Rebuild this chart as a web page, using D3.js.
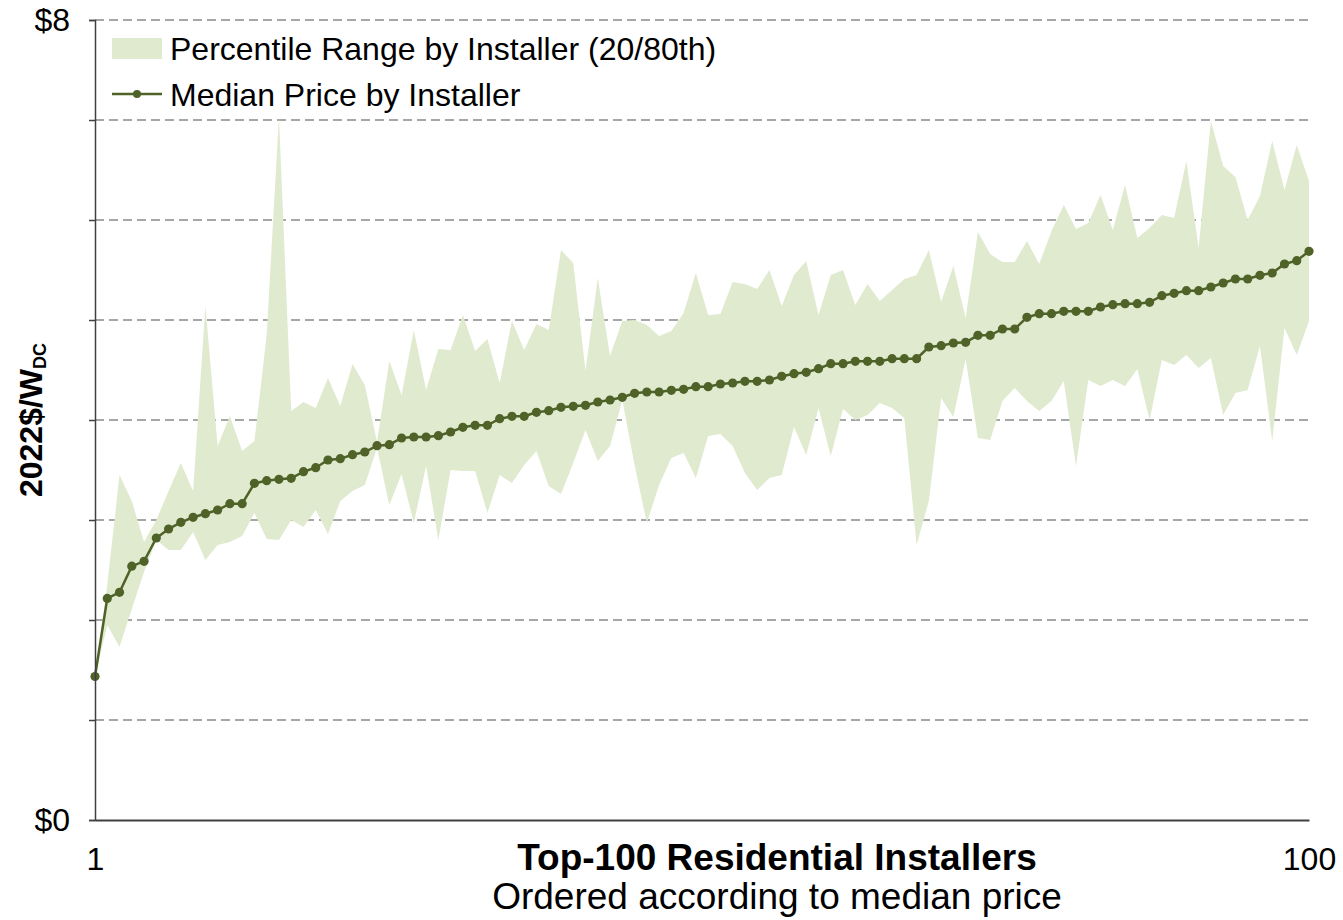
<!DOCTYPE html>
<html>
<head>
<meta charset="utf-8">
<script src="https://cdn.jsdelivr.net/npm/d3@7"></script>
<style>
  html, body { margin: 0; padding: 0; background: #ffffff; }
  svg { display: block; font-family: "Liberation Sans", Arial, sans-serif; }
</style>
</head>
<body>
<svg id="chart" width="1343" height="920"></svg>
<script>
// Installer rank (1 = lowest median price)
const installers = d3.range(1, 101);

// Median installed price by installer, 2022$/W_DC
const medianPrice = [
  1.435, 2.216, 2.277, 2.538, 2.587, 2.82, 2.91, 2.977, 3.027, 3.063,
  3.10, 3.163, 3.163, 3.367, 3.393, 3.407, 3.417, 3.483, 3.523, 3.60,
  3.613, 3.653, 3.68, 3.743, 3.753, 3.82, 3.83, 3.83, 3.843, 3.88,
  3.927, 3.947, 3.947, 4.013, 4.037, 4.037, 4.077, 4.093, 4.127, 4.137,
  4.147, 4.18, 4.20, 4.227, 4.267, 4.28, 4.28, 4.297, 4.307, 4.333,
  4.333, 4.36, 4.37, 4.387, 4.387, 4.40, 4.437, 4.463, 4.477, 4.513,
  4.563, 4.563, 4.587, 4.587, 4.587, 4.613, 4.613, 4.613, 4.73, 4.743,
  4.77, 4.777, 4.847, 4.847, 4.91, 4.91, 5.027, 5.063, 5.063, 5.087,
  5.087, 5.087, 5.13, 5.153, 5.163, 5.163, 5.177, 5.243, 5.267, 5.293,
  5.293, 5.33, 5.37, 5.41, 5.41, 5.447, 5.47, 5.56, 5.593, 5.687
];

// 80th percentile price by installer
const upperPrice = [
  1.44, 2.35, 3.45, 3.19, 2.78, 3.00, 3.29, 3.57, 3.29, 5.14,
  3.74, 4.04, 3.69, 3.79, 4.85, 7.03, 4.09, 4.18, 4.12, 4.42,
  4.14, 4.56, 4.35, 3.78, 4.59, 4.25, 4.90, 4.30, 4.71, 4.70,
  5.05, 4.69, 4.81, 4.37, 4.99, 4.70, 4.96, 4.90, 5.70, 5.57,
  4.49, 5.42, 4.64, 4.99, 5.00, 4.95, 4.84, 4.89, 5.07, 5.47,
  5.05, 5.06, 5.38, 5.36, 5.31, 5.50, 5.14, 5.45, 5.59, 5.05,
  5.45, 5.50, 5.15, 5.36, 5.19, 5.30, 5.41, 5.45, 5.70, 5.18,
  5.54, 5.02, 5.88, 5.66, 5.58, 5.58, 5.79, 5.56, 5.89, 6.15,
  5.91, 5.97, 6.25, 5.90, 6.35, 5.82, 5.92, 6.05, 6.02, 6.59,
  5.72, 6.99, 6.54, 6.43, 6.00, 6.24, 6.79, 6.30, 6.75, 6.39
];

// 20th percentile price by installer
const lowerPrice = [
  1.43, 1.95, 1.73, 2.11, 2.48, 2.80, 2.70, 2.70, 2.88, 2.60,
  2.75, 2.78, 2.84, 3.07, 2.81, 2.80, 3.00, 2.93, 3.10, 2.86,
  3.19, 3.29, 3.35, 3.72, 3.15, 3.46, 2.97, 3.54, 2.80, 3.50,
  3.49, 3.49, 3.07, 3.45, 3.37, 3.55, 3.69, 3.34, 3.26, 3.57,
  3.90, 3.59, 3.74, 4.20, 3.55, 2.97, 3.35, 3.62, 3.67, 3.42,
  3.84, 3.86, 3.74, 3.47, 3.30, 3.42, 3.45, 3.93, 3.65, 4.12,
  3.64, 4.11, 4.00, 4.05, 4.17, 4.12, 4.02, 2.75, 3.19, 4.22,
  4.03, 4.61, 3.82, 3.80, 4.19, 4.32, 4.19, 4.09, 4.19, 4.39,
  3.54, 4.40, 4.34, 4.40, 4.34, 4.51, 4.00, 4.60, 4.55, 4.65,
  4.52, 4.62, 4.05, 4.27, 4.30, 4.74, 3.79, 4.92, 4.65, 4.99
];

// Axis ticks and labels
const yTicks = [0, 1, 2, 3, 4, 5, 6, 7, 8];
const yLabelled = [0, 8];
const xLabelled = [1, 100];

const legendLabels = ["Percentile Range by Installer (20/80th)", "Median Price by Installer"];
const xTitle = "Top-100 Residential Installers";
const xSubtitle = "Ordered according to median price";

const bandColor = "#e0eacf";
const lineColor = "#4f6228";
const gridColor = "#a6a6a6";
const axisColor = "#404040";

const svg = d3.select("#chart");
const plot = { left: 95, right: 1309, top: 20, bottom: 820 };

const x = d3.scaleLinear().domain([1, 100]).range([plot.left, plot.right]);
const y = d3.scaleLinear().domain([0, 8]).range([plot.bottom, plot.top]);

const rows = installers.map((d, i) => ({
  rank: d, median: medianPrice[i], lo: lowerPrice[i], hi: upperPrice[i]
}));

// Horizontal dashed gridlines
svg.append("g")
  .selectAll("line")
  .data(yTicks.filter(t => t > 0))
  .join("line")
  .attr("x1", plot.left)
  .attr("x2", plot.right)
  .attr("y1", d => y(d))
  .attr("y2", d => y(d))
  .attr("stroke", gridColor)
  .attr("stroke-width", 2)
  .attr("stroke-dasharray", "9,5");

// 20th-80th percentile band
const band = d3.area()
  .x(d => x(d.rank))
  .y0(d => y(d.lo))
  .y1(d => y(d.hi));

svg.append("path")
  .datum(rows)
  .attr("d", band)
  .attr("fill", bandColor);

// Median line with markers
const medianLine = d3.line()
  .x(d => x(d.rank))
  .y(d => y(d.median));

svg.append("path")
  .datum(rows)
  .attr("d", medianLine)
  .attr("fill", "none")
  .attr("stroke", lineColor)
  .attr("stroke-width", 2.5);

svg.append("g")
  .selectAll("circle")
  .data(rows)
  .join("circle")
  .attr("cx", d => x(d.rank))
  .attr("cy", d => y(d.median))
  .attr("r", 4.6)
  .attr("fill", lineColor);

const fontFamily = "'Liberation Sans', Arial, sans-serif";

// Y axis
const yAxis = svg.append("g")
  .attr("transform", `translate(${plot.left},0)`)
  .call(d3.axisLeft(y)
    .tickValues(yTicks)
    .tickSize(6)
    .tickPadding(19)
    .tickFormat(d => yLabelled.includes(d) ? "$" + d : ""));
yAxis.select(".domain").attr("stroke", axisColor).attr("stroke-width", 1.5);
yAxis.selectAll(".tick line").attr("stroke", axisColor).attr("stroke-width", 1.5);
yAxis.selectAll(".tick text")
  .attr("fill", "#000")
  .style("font-size", "32px")
  .style("font-family", fontFamily);

// X axis
const xAxis = svg.append("g")
  .attr("transform", `translate(0,${plot.bottom})`)
  .call(d3.axisBottom(x)
    .tickValues(xLabelled)
    .tickSize(0)
    .tickPadding(27)
    .tickFormat(d3.format("d")));
xAxis.select(".domain").attr("stroke", axisColor).attr("stroke-width", 2);
xAxis.selectAll(".tick text")
  .attr("fill", "#000")
  .style("font-size", "32px")
  .style("font-family", fontFamily);

// Axis titles
svg.append("text")
  .attr("x", 777)
  .attr("y", 870)
  .attr("text-anchor", "middle")
  .style("font-size", "37px")
  .style("font-weight", "bold")
  .text(xTitle);

svg.append("text")
  .attr("x", 777)
  .attr("y", 909)
  .attr("text-anchor", "middle")
  .style("font-size", "37px")
  .text(xSubtitle);

const yTitle = svg.append("text")
  .attr("transform", "translate(42,420) rotate(-90)")
  .attr("text-anchor", "middle")
  .style("font-size", "32px")
  .style("font-weight", "bold");
yTitle.append("tspan").text("2022$/W");
yTitle.append("tspan")
  .attr("dy", 4)
  .style("font-size", "18px")
  .text("DC");

// Legend
const legend = svg.append("g");
legend.append("rect")
  .attr("x", 112).attr("y", 38)
  .attr("width", 50).attr("height", 21)
  .attr("fill", bandColor);
legend.append("line")
  .attr("x1", 112).attr("x2", 162)
  .attr("y1", 94).attr("y2", 94)
  .attr("stroke", lineColor)
  .attr("stroke-width", 2.5);
legend.append("circle")
  .attr("cx", 137).attr("cy", 94).attr("r", 4)
  .attr("fill", lineColor);
legend.selectAll("text.lg")
  .data(legendLabels)
  .join("text")
  .attr("class", "lg")
  .attr("x", 170)
  .attr("y", (d, i) => 60 + i * 46)
  .style("font-size", "32px")
  .attr("fill", "#000")
  .text(d => d);
</script>
</body>
</html>
